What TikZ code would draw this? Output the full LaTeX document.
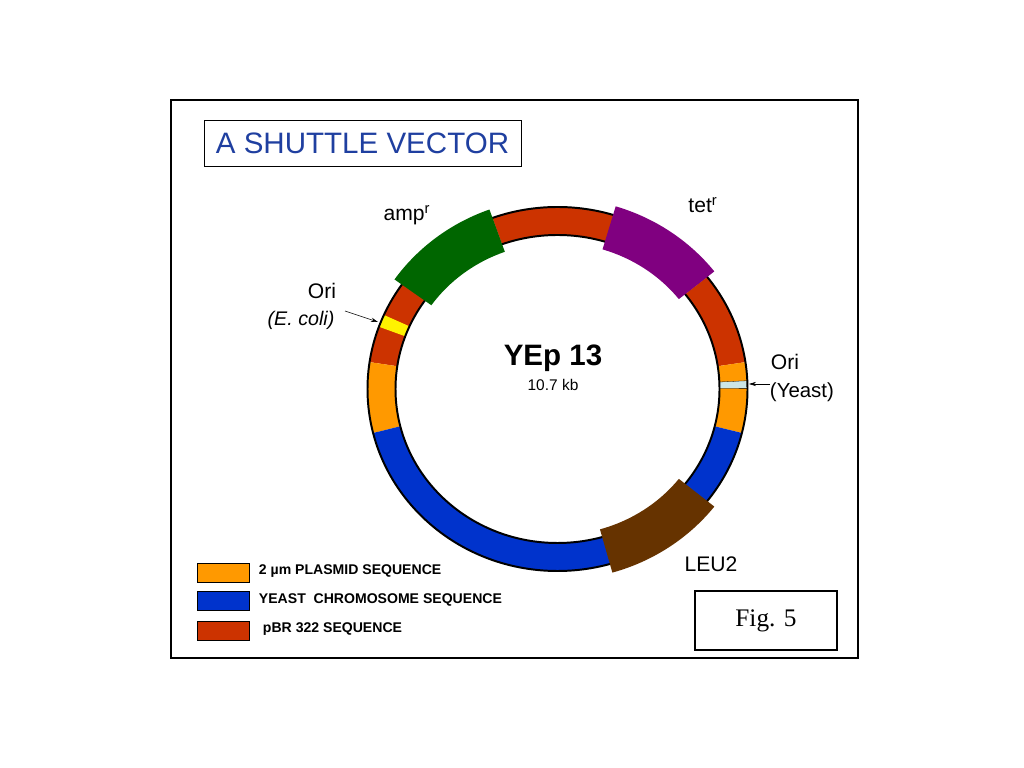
\documentclass[tikz,border=0pt]{standalone}
\usepackage{fontspec}
\setmainfont{Liberation Sans}
\newfontfamily\figfont{Liberation Serif}
\usetikzlibrary{calc,arrows.meta}
\definecolor{plasmid}{HTML}{FF9900}
\definecolor{yeastchr}{HTML}{0033CC}
\definecolor{pbr}{HTML}{CC3300}
\definecolor{ampcol}{HTML}{006600}
\definecolor{tetcol}{HTML}{800080}
\definecolor{leucol}{HTML}{663300}
\definecolor{oriyeast}{HTML}{CCE6E6}
\definecolor{titleblue}{HTML}{1F3FA0}
% ring segment: start, end, colour, outer rx, outer ry, inner rx, inner ry
\newcommand\ringseg[7]{%
  \fill[#3] ($(C)+(#1:#4 and #5)$) arc[start angle=#1, end angle=#2, x radius=#4, y radius=#5]
    -- ($(C)+(#2:#6 and #7)$) arc[start angle=#2, end angle=#1, x radius=#6, y radius=#7] -- cycle;}
\newcommand\band[3]{\ringseg{#1}{#2}{#3}{190}{182}{162}{154}}
\newcommand\gene[3]{\ringseg{#1}{#2}{#3}{199}{191}{154}{146}}
\begin{document}
\begin{tikzpicture}[
  x=0.025cm,
  y=0.025cm,
  font=\fontsize{15}{18}\selectfont,
  legendbox/.style={draw, minimum width=52*0.025cm, minimum height=19*0.025cm, inner sep=0pt},
  legendtext/.style={font=\bfseries\fontsize{10}{12}\selectfont, anchor=west},
  pointer/.style={-{Stealth[length=5pt,width=3pt]}, thin}
  ]
  \useasboundingbox (0,0) rectangle (1024,768);
  \fill[white] (0,0) rectangle (1024,768);
  \draw[line width=1pt] (171,110) rectangle (858,668);
  \node [draw, thin, minimum width=317*0.025cm, minimum height=46*0.025cm, text=titleblue,
    font=\fontsize{21}{25}\selectfont] (Title) at (362.5,625) {A SHUTTLE VECTOR};

  \coordinate (C) at (557.5,379);
  % pieces of the ring
  \band{110}{171.5}{pbr}
  \band{38}{110}{pbr}
  \band{8.5}{38}{pbr}
  \band{-14}{8.5}{plasmid}
  \band{171.5}{194}{plasmid}
  \band{194}{346}{yeastchr}
  \band{156}{160}{yellow}
  \fill[oriyeast, draw=black, very thin] ($(C)+(0.2:190 and 182)$) arc[start angle=0.2, end angle=2.6, x radius=190, y radius=182]
    -- ($(C)+(2.6:162 and 154)$) arc[start angle=2.6, end angle=0.2, x radius=162, y radius=154] -- cycle;
  \draw[line width=1.4pt] (C) ellipse [x radius=190, y radius=182];
  \draw[line width=1.4pt] (C) ellipse [x radius=162, y radius=154];
  \gene{110}{145}{ampcol}
  \gene{38}{73}{tetcol}
  \gene{-74}{-38}{leucol}

  \node (Amp) at (407,553) {amp$^{\mathrm{r}}$};
  \node (Tet) at (703,563) {tet$^{\mathrm{r}}$};
  \node (LEU) at (711,204) {LEU2};
  \node [font=\bfseries\fontsize{21}{24}\selectfont] (Name) at (553,410) {YEp 13};
  \node [font=\fontsize{11}{13}\selectfont] (Size) at (553,383) {10.7 kb};

  \node (OriE) at (322,477) {Ori};
  \node [font=\itshape\fontsize{14}{16}\selectfont] (Ecoli) at (301,448) {(E. coli)};
  \coordinate (OriEpt) at (378,446);
  \draw [pointer] (345,457) -- (OriEpt);
  \node [anchor=west] (OriY) at (766,406) {Ori};
  \node [anchor=west, font=\fontsize{14.5}{17}\selectfont] (Yeast) at (765,376) {(Yeast)};
  \coordinate (OriYpt) at (749,384);
  \draw [pointer] (770,384) -- (OriYpt);

  \node [legendbox, fill=plasmid] (L1) at (223,195.5) {};
  \node [legendbox, fill=yeastchr] (L2) at (223,167.5) {};
  \node [legendbox, fill=pbr] (L3) at (223,137) {};
  \node [legendtext] (T1) at (254,197) {2 \textmu m PLASMID SEQUENCE};
  \node [legendtext] (T2) at (254,168) {YEAST\ \ CHROMOSOME SEQUENCE};
  \node [legendtext] (T3) at (258,139) {pBR 322 SEQUENCE};

  \node [draw, line width=0.8pt, minimum width=142*0.025cm, minimum height=59*0.025cm,
    font=\figfont\fontsize{18}{21}\selectfont] (Fig) at (766,147.5) {Fig. 5};
\end{tikzpicture}
\end{document}
